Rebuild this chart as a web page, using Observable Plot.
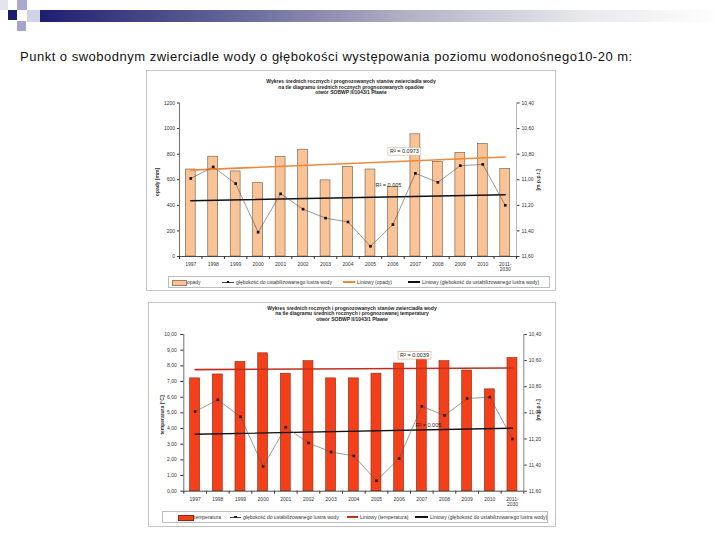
<!DOCTYPE html>
<html><head><meta charset="utf-8">
<script src="https://cdn.jsdelivr.net/npm/d3@7"></script>
<script src="https://cdn.jsdelivr.net/npm/@observablehq/plot@0.6"></script>
<style>
body{margin:0;width:720px;height:540px;position:relative;background:#fff;font-family:Arial,"Liberation Sans",sans-serif;overflow:hidden}
.abs{position:absolute}
.frame{position:absolute;border:1px solid #c4c4c4;background:#fff;box-sizing:border-box}
.ctitle{position:absolute;left:0;width:100%;text-align:center;font-weight:bold;font-size:5px;color:#222;white-space:nowrap}
.axt{position:absolute;font-size:5px;font-weight:bold;color:#333;white-space:nowrap;transform:translate(-50%,-50%) rotate(-90deg)}
.lgbox{position:absolute;border:1px solid #bdbdbd;box-sizing:border-box;background:#fff}
.lgt{position:absolute;font-size:5px;color:#333;white-space:nowrap;transform:translateY(-50%)}
.sw{position:absolute}
</style></head>
<body>
<!-- slide decoration -->
<div class="abs" style="left:0;top:0;width:8px;height:10px;background:#e4e4f0"></div>
<div class="abs" style="left:17px;top:0;width:10px;height:10px;background:#a8a8d0"></div>
<div class="abs" style="left:8px;top:10px;width:9px;height:10px;background:#1c1c6c"></div>
<div class="abs" style="left:27px;top:10px;width:13px;height:12px;background:#d2d2e6"></div>
<div class="abs" style="left:17px;top:21px;width:9px;height:10px;background:#a4a4cc"></div>
<div class="abs" style="left:40px;top:10px;width:680px;height:12px;background:linear-gradient(to right,#1e1e70 0%,#6a6a9c 30%,#b4b4c8 55%,#e8e8ee 80%,#ffffff 100%)"></div>
<div class="abs" style="left:20px;top:49px;font-size:13px;color:#111;letter-spacing:0.5px;white-space:nowrap">Punkt o swobodnym zwierciadle wody o głębokości występowania poziomu wodonośnego10-20 m:</div>

<div class="frame" style="left:146px;top:70px;width:410px;height:221px">
  <div class="ctitle" style="top:8px;line-height:5.6px">Wykres średnich rocznych i prognozowanych stanów zwierciadła wody<br>na tle diagramu średnich rocznych prognozowanych opadów<br>otwór SOBWP II/1043/1 Pławie</div>
</div>
<div class="frame" style="left:148px;top:302px;width:408px;height:225px">
  <div class="ctitle" style="top:3px;line-height:5.4px">Wykres średnich rocznych i prognozowanych stanów zwierciadła wody<br>na tle diagramu średnich rocznych i prognozowanej temperatury<br>otwór SOBWP II/1043/1 Pławie</div>
</div>

<div id="c1" class="abs" style="left:146px;top:97px"></div>
<div id="c2" class="abs" style="left:148px;top:328px"></div>

<div class="axt" style="left:157px;top:182px">opady [mm]</div>
<div class="axt" style="left:538px;top:180px">[m p.p.t.]</div>
<div class="axt" style="left:162px;top:415px">temperatura [°C]</div>
<div class="axt" style="left:538px;top:410px">[m p.p.t.]</div>

<!-- legend 1 -->
<div class="lgbox" style="left:168px;top:276px;width:382px;height:12px"></div>
<div class="sw" style="left:172px;top:280px;width:13px;height:4px;background:#f9c396;border:0.5px solid #a08060"></div>
<div class="lgt" style="left:187px;top:282px">opady</div>
<div class="sw" style="left:222px;top:281.6px;width:12px;height:0.7px;background:#444"></div>
<div class="sw" style="left:226.7px;top:280.5px;width:2.6px;height:2.6px;background:#111"></div>
<div class="lgt" style="left:236px;top:282px">głębokość do ustabilizowanego lustra wody</div>
<div class="sw" style="left:343px;top:281.2px;width:12px;height:1.6px;background:#f0883a"></div>
<div class="lgt" style="left:357px;top:282px">Liniowy (opady)</div>
<div class="sw" style="left:408px;top:281.2px;width:12px;height:1.5px;background:#111"></div>
<div class="lgt" style="left:422px;top:282px">Liniowy (głębokość do ustabilizowanego lustra wody)</div>

<!-- legend 2 -->
<div class="lgbox" style="left:162px;top:511px;width:386px;height:12px"></div>
<div class="sw" style="left:178px;top:515px;width:14px;height:4px;background:#f4401a;border:0.5px solid #8a2a10"></div>
<div class="lgt" style="left:194px;top:517px">temperatura</div>
<div class="sw" style="left:230px;top:516.6px;width:11px;height:0.7px;background:#444"></div>
<div class="sw" style="left:234.2px;top:515.5px;width:2.6px;height:2.6px;background:#222"></div>
<div class="lgt" style="left:243px;top:517px">głębokość do ustabilizowanego lustra wody</div>
<div class="sw" style="left:347px;top:516.2px;width:11px;height:1.6px;background:#c0301e"></div>
<div class="lgt" style="left:360px;top:517px">Liniowy (temperatura)</div>
<div class="sw" style="left:415px;top:516.2px;width:13px;height:1.5px;background:#111"></div>
<div class="lgt" style="left:430px;top:517px">Liniowy (głębokość do ustabilizowanego lustra wody)</div>

<script>
// ---- data ----
const years = ["1997","1998","1999","2000","2001","2002","2003","2004","2005","2006","2007","2008","2009","2010","2011-\n2030"];
const precip = [680, 780, 665, 573, 780, 835, 595, 700, 680, 545, 955, 740, 810, 880, 685];
const temperature = [7.2, 7.45, 8.25, 8.8, 7.5, 8.3, 7.2, 7.2, 7.5, 8.15, 8.6, 8.3, 7.7, 6.5, 8.5];
const depth = [10.99, 10.90, 11.03, 11.41, 11.11, 11.23, 11.30, 11.33, 11.52, 11.35, 10.95, 11.02, 10.89, 10.88, 11.20];
const precipTicks = [0, 200, 400, 600, 800, 1000, 1200];
const tempTicks = [0, 1, 2, 3, 4, 5, 6, 7, 8, 9, 10];
const depthTicks = [10.40, 10.60, 10.80, 11.00, 11.20, 11.40, 11.60];
const r2Labels1 = ["R² = 0.0973", "R² = 0.005"];
const r2Labels2 = ["R² = 0.0039", "R² = 0.005"];

const comma = (v, n) => v.toFixed(n).replace(".", ",");

function chart(o) {
  const dMin = depthTicks[0], dMax = depthTicks[depthTicks.length - 1];
  const toY = d => (dMax - d) / (dMax - dMin) * o.yMax;
  const rows = years.map((y, i) => ({i, year: y, v: o.values[i], depth: depth[i]}));
  const n = years.length;
  return Plot.plot({
    width: o.width, height: o.height,
    marginLeft: o.ml, marginRight: o.mr, marginTop: o.mt, marginBottom: o.mb,
    style: {fontFamily: "Arial, 'Liberation Sans', sans-serif", fontSize: "5px", color: "#333", background: "transparent", overflow: "visible"},
    x: {domain: [-0.5, n - 0.5], axis: null},
    y: {domain: [0, o.yMax], axis: null},
    marks: [
      Plot.rectY(rows, {x1: d => d.i - 0.22, x2: d => d.i + 0.22, y1: 0, y2: "v", fill: o.barFill, stroke: o.barStroke, strokeWidth: 0.6}),
      Plot.linearRegressionY(rows, {x: "i", y: "v", stroke: o.trendColor, strokeWidth: 1.6, ci: 0}),
      Plot.linearRegressionY(rows, {x: "i", y: d => toY(d.depth), stroke: "#111", strokeWidth: 1.4, ci: 0}),
      Plot.line(rows, {x: "i", y: d => toY(d.depth), stroke: "#555", strokeWidth: 0.6}),
      Plot.dot(rows, {x: "i", y: d => toY(d.depth), symbol: "square", r: 1.5, fill: o.dotFill, stroke: "none"}),
      Plot.ruleY([0], {stroke: "#222", strokeWidth: 0.8}),
      Plot.ruleX([-0.5], {stroke: "#333", strokeWidth: 0.7}),
      Plot.ruleX([n - 0.5], {stroke: o.rightAxisColor, strokeWidth: 0.7}),
      Plot.axisY({anchor: "left", ticks: o.yTicks, tickSize: o.tickL, tickPadding: o.padL, tickFormat: o.yFmt, label: null}),
      Plot.axisY({anchor: "right", ticks: depthTicks.map(toY), tickSize: 2.5, tickPadding: 2.5,
        tickFormat: v => comma(dMax - v / o.yMax * (dMax - dMin), 2), label: null}),
      Plot.axisX({ticks: d3.range(n), tickSize: 0, tickPadding: 6, tickFormat: i => years[i], label: null}),
      Plot.axisX({ticks: d3.range(n + 1).map(k => k - 0.5), tickSize: 3, tickFormat: () => "", label: null}),
      Plot.text([o.labels[0]], {x: o.lab1[0], y: o.lab1[1], text: d => d, fontSize: 5.5, fill: "#222"}),
      Plot.text([o.labels[1]], {x: o.lab2[0], y: o.lab2[1], text: d => d, fontSize: 5.5, fill: "#222"})
    ]
  });
}

function boxLabel(svg, txt, color) {
  svg.querySelectorAll("text").forEach(t => {
    if (t.textContent === txt) {
      const b = t.getBBox();
      const r = document.createElementNS("http://www.w3.org/2000/svg", "rect");
      r.setAttribute("x", b.x - 2); r.setAttribute("y", b.y - 0.8);
      r.setAttribute("width", b.width + 4); r.setAttribute("height", b.height + 1.6);
      r.setAttribute("fill", "#fff"); r.setAttribute("stroke", color); r.setAttribute("stroke-width", 0.6);
      const tr = t.getAttribute("transform");
      if (tr) r.setAttribute("transform", tr);
      t.parentNode.insertBefore(r, t);
    }
  });
}

const svg1 = chart({
  values: precip, yMax: 1200, yTicks: precipTicks, yFmt: v => String(v),
  width: 410, height: 184, ml: 33, mr: 40, mt: 5.5, mb: 25,
  barFill: "#f9c396", barStroke: "#6b5844", trendColor: "#f0883a", dotFill: "#111",
  rightAxisColor: "#999", tickL: 2, padL: 2.5,
  labels: r2Labels1, lab1: [9.51, 820], lab2: [8.8, 555]
});
document.getElementById("c1").append(svg1);
boxLabel(svg1, r2Labels1[0], "#d9b38c");

const svg2 = chart({
  values: temperature, yMax: 10, yTicks: tempTicks, yFmt: v => comma(v, 2),
  width: 408, height: 190, ml: 35.3, mr: 32.7, mt: 6, mb: 27.3,
  barFill: "#f4401a", barStroke: "#8a2a10", trendColor: "#c0301e", dotFill: "#3a1212",
  rightAxisColor: "#555", tickL: 3, padL: 4,
  labels: r2Labels2, lab1: [9.68, 8.66], lab2: [10.29, 4.22]
});
document.getElementById("c2").append(svg2);
boxLabel(svg2, r2Labels2[0], "#d9a080");
</script>
</body></html>
